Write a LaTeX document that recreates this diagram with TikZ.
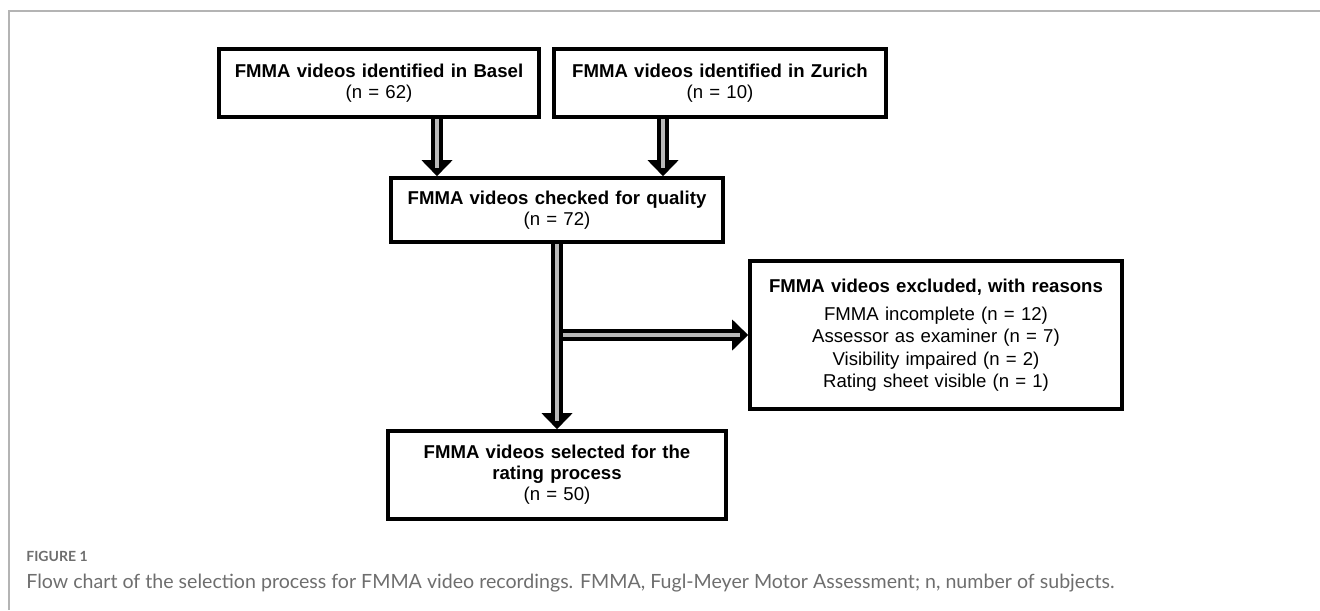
\documentclass[tikz,border=0pt]{standalone}
\usepackage{fontspec}
\setmainfont{Liberation Sans}
\newfontfamily\capfont{Lato}
\usetikzlibrary{arrows.meta}
\definecolor{capgray}{HTML}{6E6E6E}
\definecolor{framegray}{HTML}{B4B4B4}

\begin{document}
\begin{tikzpicture}[x=0.5pt, y=-0.5pt,
  box/.style={draw=black, line width=1.8pt, fill=white, align=center, inner xsep=0pt,
    font=\fontsize{9.3}{10.5}\selectfont},
  fatarrow/.style={black, line width=6pt, -{Triangle[width=15pt,length=8pt]},
    postaction={draw, gray!55, line width=2pt, -, shorten >=4pt}},
  frameline/.style={framegray, line width=0.9pt}]
\useasboundingbox (0,0) rectangle (1320,610);
\draw [frameline] (9,610) -- (9,11) -- (1320,11);

\node [box, text width=160pt, minimum height=34pt] (basel) at (379,83)
  {\textbf{FMMA videos identified in Basel}\\(n = 62)};
\node [box, text width=166pt, minimum height=34pt] (zurich) at (720,83)
  {\textbf{FMMA videos identified in Zurich}\\(n = 10)};
\node [box, text width=166pt, minimum height=32pt] (quality) at (557,210)
  {\textbf{FMMA videos checked for quality}\\(n = 72)};
\node [box, text width=186pt, minimum height=74pt, font=\fontsize{9.3}{11.2}\selectfont] (excluded) at (936,335)
  {\textbf{FMMA videos excluded, with reasons}\\[3pt]
   FMMA incomplete (n = 12)\\Assessor as examiner (n = 7)\\
   Visibility impaired (n = 2)\\Rating sheet visible (n = 1)};
\node [box, text width=169pt, minimum height=44pt] (selected) at (557,475)
  {\textbf{FMMA videos selected for the}\\\textbf{rating process}\\(n = 50)};

\coordinate (bsrc) at ([xshift=29pt]basel.south);
\coordinate (zsrc) at ([xshift=-28.5pt]zurich.south);
\coordinate (fork) at (quality.south |- excluded.west);
\draw [fatarrow] (bsrc) -- (bsrc |- quality.north);
\draw [fatarrow] (zsrc) -- (zsrc |- quality.north);
\draw [fatarrow] (fork) -- (excluded.west);
\draw [fatarrow] (quality.south) -- (selected.north);

\node [anchor=west, inner sep=0pt, text=capgray, font=\capfont\bfseries\fontsize{7}{9}\selectfont] (fig) at (26,556) {FIGURE 1};
\node [anchor=west, inner sep=0pt, text=capgray, font=\capfont\fontsize{9.8}{12}\selectfont] (cap) at (26,583)
  {Flow chart of the selection process for FMMA video recordings. FMMA, Fugl-Meyer Motor Assessment; n, number of subjects.};
\end{tikzpicture}
\end{document}
